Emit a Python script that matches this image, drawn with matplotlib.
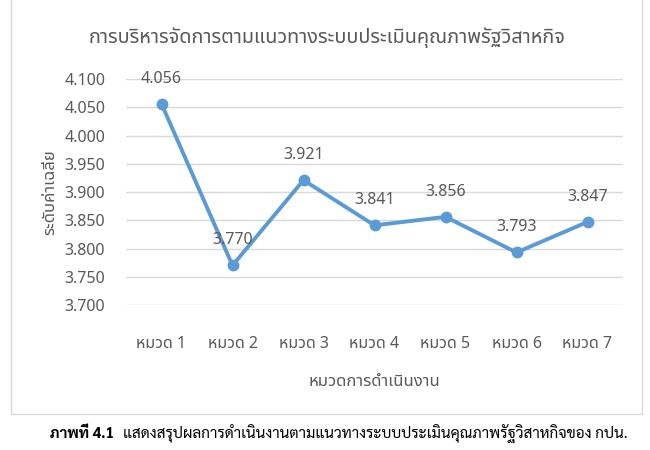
import matplotlib
matplotlib.use('Agg')
import matplotlib.pyplot as plt
from matplotlib.patches import Rectangle

# data
categories = ['หมวด 1', 'หมวด 2', 'หมวด 3', 'หมวด 4', 'หมวด 5', 'หมวด 6', 'หมวด 7']
scores = [4.056, 3.770, 3.921, 3.841, 3.856, 3.793, 3.847]
y_ticks = [3.700, 3.750, 3.800, 3.850, 3.900, 3.950, 4.000, 4.050, 4.100]

title = 'การบริหารจัดการตามแนวทางระบบประเมินคุณภาพรัฐวิสาหกิจ'
x_label = 'หมวดการดำเนินงาน'
y_label = 'ระดับค่าเฉลี่ย'
caption_bold = 'ภาพที่ 4.1'
caption = 'แสดงสรุปผลการดำเนินงานตามแนวทางระบบประเมินคุณภาพรัฐวิสาหกิจของ กปน.'

THAI = ['Noto Sans Thai', 'DejaVu Sans']
CAP = ['Sarabun', 'DejaVu Sans']
plt.rcParams['font.family'] = THAI

GRAY = '#595959'
BLUE = '#5b9bd5'
GRID = '#d9d9d9'
FS = 11.5

fig = plt.figure(figsize=(6.5, 4.5), dpi=100)
ax = fig.add_axes([126 / 650, 1 - 305 / 450, 497 / 650, 226 / 450])

x = range(len(categories))
ax.plot(x, scores, color=BLUE, lw=2.8, marker='o', ms=7.5, solid_capstyle='round',
        solid_joinstyle='round', zorder=3)
for xi, v in zip(x, scores):
    ax.annotate(f'{v:.3f}', (xi, v), xytext=(0, 18), textcoords='offset points',
                ha='center', va='center', fontsize=FS, color=GRAY, zorder=4)

ax.set_xlim(-0.5, len(categories) - 0.5)
ax.set_ylim(3.7, 4.1)
ax.set_yticks(y_ticks)
ax.set_yticklabels([f'{t:.3f}' for t in y_ticks])
ax.set_xticks(list(x))
ax.set_xticklabels(categories)
ax.tick_params(length=0, labelsize=FS, labelcolor=GRAY)
ax.tick_params(axis='y', pad=15)
ax.tick_params(axis='x', pad=22)
ax.grid(axis='y', color=GRID, lw=1)
ax.set_axisbelow(True)
for s in ax.spines.values():
    s.set_visible(False)

# axis titles placed by their centres
ax.set_xlabel(x_label, fontsize=12, color=GRAY, va='center')
ax.xaxis.set_label_coords(0.5, (305 - 382) / 226)
ax.set_ylabel(y_label, fontsize=12, color=GRAY, va='center')
ax.yaxis.set_label_coords((50 - 126) / 497, 0.5)

fig.text(327 / 650, 1 - 38 / 450, title, ha='center', va='center', fontsize=14.3, color=GRAY)

fig.patches.append(Rectangle((11 / 650, 1 - 414 / 450), 631 / 650, 414 / 450 + 0.01,
                             transform=fig.transFigure, fill=False, ec=GRID, lw=1))

fig.text(50 / 650, 1 - 434 / 450, caption_bold, ha='left', va='center', fontsize=11,
         fontweight='bold', family=CAP)
fig.text(123 / 650, 1 - 434 / 450, caption, ha='left', va='center', fontsize=11, family=CAP)

fig.savefig('out.png')
